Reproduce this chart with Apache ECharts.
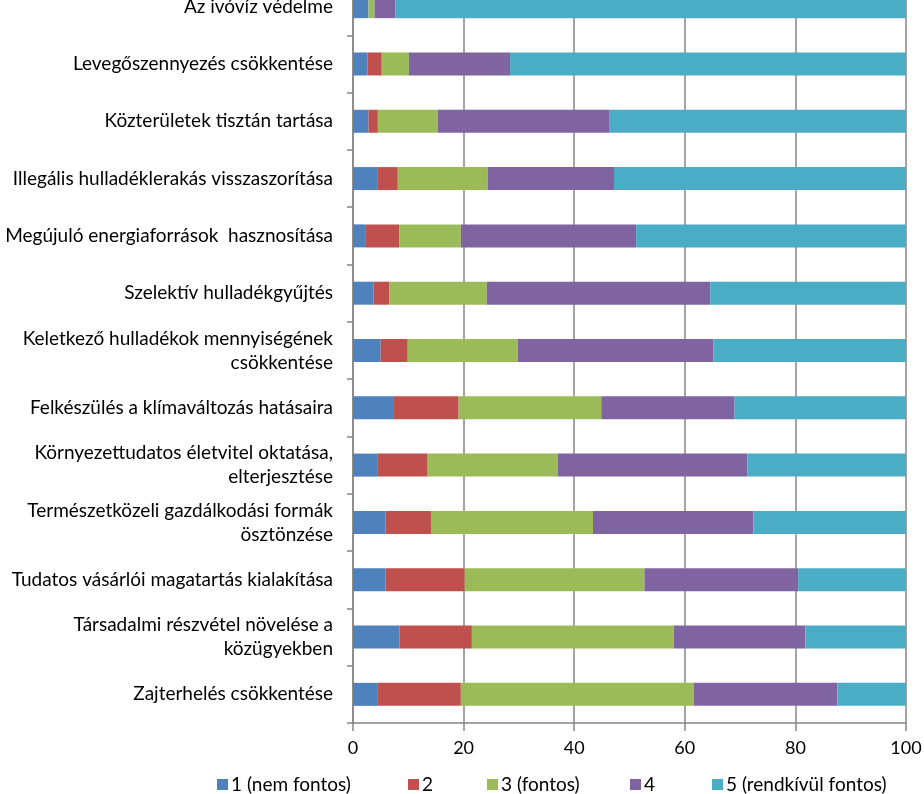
<!DOCTYPE html>
<html>
<head>
<meta charset="utf-8">
<script src="https://cdn.jsdelivr.net/npm/echarts@6/dist/echarts.min.js"></script>
<style>
  html, body { margin: 0; padding: 0; background: #fff; }
  #chart { width: 924px; height: 794px; }
</style>
</head>
<body>
<div id="chart"></div>
<script>
// Categories, top to bottom
const categories = [
  "Az ivóvíz védelme",
  "Levegőszennyezés csökkentése",
  "Közterületek tisztán tartása",
  "Illegális hulladéklerakás visszaszorítása",
  "Megújuló energiaforrások  hasznosítása",
  "Szelektív hulladékgyűjtés",
  "Keletkező hulladékok mennyiségének\ncsökkentése",
  "Felkészülés a klímaváltozás hatásaira",
  "Környezettudatos életvitel oktatása,\nelterjesztése",
  "Természetközeli gazdálkodási formák\nösztönzése",
  "Tudatos vásárlói magatartás kialakítása",
  "Társadalmi részvétel növelése a\nközügyekben",
  "Zajterhelés csökkentése"
]

const seriesNames = ["1 (nem fontos)", "2", "3 (fontos)", "4", "5 (rendkívül fontos)"]

// Percent shares per rating
const rating1 = [2.8, 2.6, 2.8, 4.5, 2.2, 3.7, 5.0, 7.4, 4.5, 5.9, 5.9, 8.4, 4.5]
const rating2 = [0.0, 2.6, 1.7, 3.6, 6.2, 2.9, 4.9, 11.7, 9.0, 8.2, 14.3, 13.1, 15.0]
const rating3 = [1.1, 4.9, 10.8, 16.3, 11.1, 17.6, 19.9, 25.8, 23.5, 29.3, 32.5, 36.5, 42.1]
const rating4 = [3.8, 18.3, 31.0, 22.8, 31.7, 40.4, 35.4, 24.1, 34.3, 29.0, 27.8, 23.8, 26.0]
const rating5 = [92.3, 71.6, 53.7, 52.8, 48.8, 35.4, 34.8, 31.0, 28.7, 27.6, 19.5, 18.2, 12.4]

const colors = ["#4F81BD", "#C0504D", "#9BBB59", "#8064A2", "#4BACC6"]
const values = [rating1, rating2, rating3, rating4, rating5]

// left edge of each legend marker
const legendLeft = [217, 408, 487, 630, 712]

const chart = echarts.init(document.getElementById("chart"))

const option = {
  animation: false,
  color: colors,
  textStyle: { fontFamily: "Lato" },
  grid: {
    left: 353,
    right: 18,
    top: -22,
    bottom: 71,
    outerBoundsMode: "none"
  },
  legend: seriesNames.map((name, i) => ({
    bottom: 0,
    left: legendLeft[i],
    padding: 0,
    itemWidth: 11,
    itemHeight: 11,
    itemGap: 0,
    icon: "rect",
    textStyle: { fontSize: 19, color: "#000", padding: [0, 0, 0, -2] },
    data: [name]
  })),
  xAxis: {
    type: "value",
    min: 0,
    max: 100,
    interval: 20,
    axisLine: { show: true, lineStyle: { color: "#868686", width: 1.5 } },
    axisTick: { show: true, length: 8, lineStyle: { color: "#868686", width: 1.5 } },
    splitLine: { show: true, lineStyle: { color: "#868686", width: 1.5 } },
    axisLabel: { fontSize: 18, color: "#000", margin: 16 }
  },
  yAxis: {
    type: "category",
    inverse: true,
    data: categories,
    axisLine: { show: true, lineStyle: { color: "#868686", width: 1.5 } },
    axisTick: { show: true, length: 6, lineStyle: { color: "#868686", width: 1.5 } },
    axisLabel: { fontSize: 19, color: "#000", margin: 20, lineHeight: 24, align: "right" }
  },
  series: values.map((data, i) => ({
    name: seriesNames[i],
    type: "bar",
    stack: "total",
    barWidth: 23,
    data: data
  }))
}

chart.setOption(option)
</script>
</body>
</html>
